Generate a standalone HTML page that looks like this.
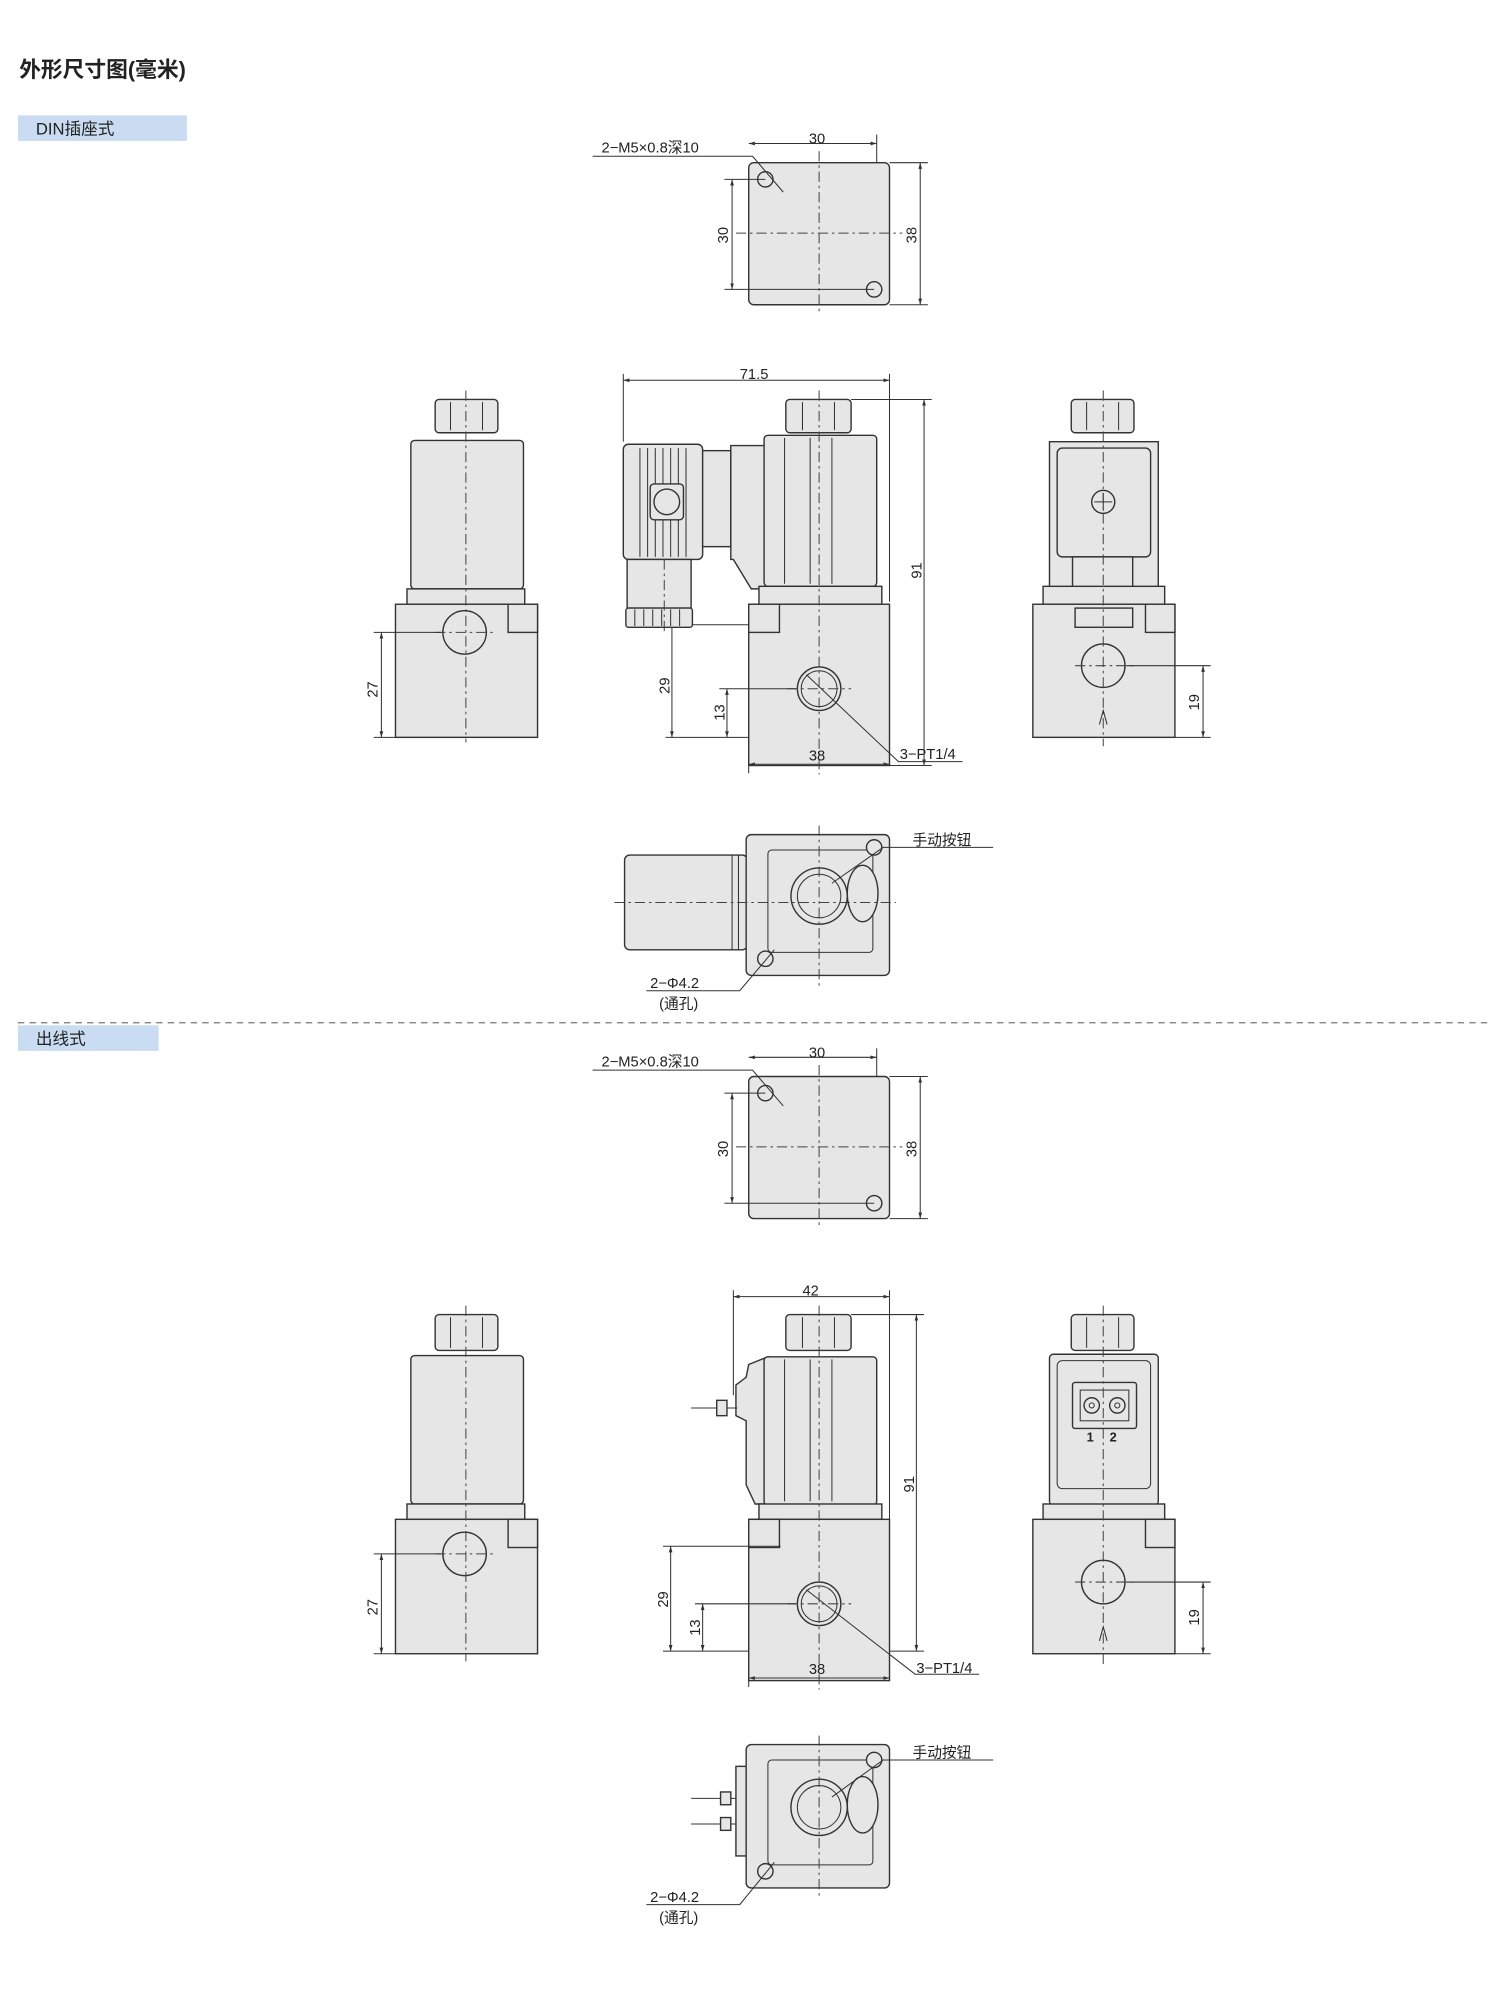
<!DOCTYPE html>
<html><head><meta charset="utf-8"><style>
html,body{margin:0;padding:0;background:#fff;}
svg{display:block;}
text{font-family:"Liberation Sans","Noto Sans CJK SC",sans-serif;fill:#222;}
.f{fill:#e6e6e6;stroke:#333;stroke-width:1.1;}
.l{fill:none;stroke:#333;stroke-width:0.8;}
.c{fill:none;stroke:#444;stroke-width:0.8;stroke-dasharray:8 3 2 3;}
.t{font-size:11.5px;}
</style></head><body>
<svg width="1500" height="2002" viewBox="0 0 1172 1564" xmlns="http://www.w3.org/2000/svg">
<defs>
<marker id="a" viewBox="0 0 10 10" refX="10" refY="5" markerWidth="6" markerHeight="6" orient="auto-start-reverse"><path d="M0,2 L10,5 L0,8z" fill="#333"/></marker>
</defs>
<text x="15" y="60" style="font-size:17px;font-weight:bold">外形尺寸图(毫米)</text>
<rect x="14" y="90" width="132" height="20" fill="#c9dcf2"/>
<text x="28" y="105" style="font-size:13px">DIN插座式</text>
<line x1="14" y1="799" x2="1162" y2="799" stroke="#777" stroke-width="1" stroke-dasharray="5 4"/>
<rect x="14" y="801" width="110" height="20" fill="#c9dcf2"/>
<text x="28" y="816" style="font-size:13px">出线式</text>

<!-- Top views (two sections) -->
<g id="tv1">
<rect class="f" x="585" y="127" width="110" height="111" rx="4"/>
<circle class="f" cx="598" cy="140" r="6"/><circle class="f" cx="683" cy="226" r="6"/>
<line class="c" x1="640" y1="118" x2="640" y2="245"/><line class="c" x1="575" y1="182" x2="705" y2="182"/>
<line class="l" x1="585" y1="112" x2="685" y2="112" marker-start="url(#a)" marker-end="url(#a)"/>
<line class="l" x1="685" y1="105" x2="685" y2="127"/>
<text class="t" x="632" y="112">30</text>
<line class="l" x1="695" y1="127" x2="725" y2="127"/><line class="l" x1="695" y1="238" x2="725" y2="238"/>
<line class="l" x1="719" y1="127" x2="719" y2="238" marker-start="url(#a)" marker-end="url(#a)"/>
<text class="t" transform="translate(716,190) rotate(-90)">38</text>
<line class="l" x1="566" y1="140" x2="598" y2="140"/><line class="l" x1="566" y1="226" x2="683" y2="226"/>
<line class="l" x1="572" y1="140" x2="572" y2="226" marker-start="url(#a)" marker-end="url(#a)"/>
<text class="t" transform="translate(569,190) rotate(-90)">30</text>
<text class="t" x="470" y="119">2−M5×0.8深10</text>
<polyline class="l" points="463,122 588,122 612,150"/>
</g>
<g transform="translate(0,714)">
<rect class="f" x="585" y="127" width="110" height="111" rx="4"/>
<circle class="f" cx="598" cy="140" r="6"/><circle class="f" cx="683" cy="226" r="6"/>
<line class="c" x1="640" y1="118" x2="640" y2="245"/><line class="c" x1="575" y1="182" x2="705" y2="182"/>
<line class="l" x1="585" y1="112" x2="685" y2="112" marker-start="url(#a)" marker-end="url(#a)"/>
<line class="l" x1="685" y1="105" x2="685" y2="127"/>
<text class="t" x="632" y="112">30</text>
<line class="l" x1="695" y1="127" x2="725" y2="127"/><line class="l" x1="695" y1="238" x2="725" y2="238"/>
<line class="l" x1="719" y1="127" x2="719" y2="238" marker-start="url(#a)" marker-end="url(#a)"/>
<text class="t" transform="translate(716,190) rotate(-90)">38</text>
<line class="l" x1="566" y1="140" x2="598" y2="140"/><line class="l" x1="566" y1="226" x2="683" y2="226"/>
<line class="l" x1="572" y1="140" x2="572" y2="226" marker-start="url(#a)" marker-end="url(#a)"/>
<text class="t" transform="translate(569,190) rotate(-90)">30</text>
<text class="t" x="470" y="119">2−M5×0.8深10</text>
<polyline class="l" points="463,122 588,122 612,150"/>
</g>

<!-- ===== Section 1 front row ===== -->
<!-- left view -->
<rect class="f" x="340" y="312" width="49" height="26" rx="3"/>
<line class="l" x1="352" y1="314" x2="352" y2="336"/><line class="l" x1="377" y1="314" x2="377" y2="336"/>
<rect class="f" x="321" y="344" width="88" height="116" rx="3"/>
<rect class="f" x="318" y="460" width="92" height="12"/>
<rect class="f" x="309" y="472" width="111" height="104"/>
<rect class="f" x="397" y="472" width="23" height="22"/>
<circle class="f" cx="363" cy="494" r="17"/>
<line class="c" x1="364" y1="305" x2="364" y2="580"/><line class="c" x1="340" y1="494" x2="386" y2="494"/>
<line class="l" x1="292" y1="494" x2="345" y2="494"/><line class="l" x1="292" y1="576" x2="309" y2="576"/>
<line class="l" x1="298" y1="494" x2="298" y2="576" marker-start="url(#a)" marker-end="url(#a)"/>
<text class="t" transform="translate(295,545) rotate(-90)">27</text>

<!-- middle view DIN -->
<rect class="f" x="487" y="347" width="62" height="90" rx="4"/>
<g class="l"><line x1="500" y1="350" x2="500" y2="435"/><line x1="506" y1="350" x2="506" y2="435"/><line x1="512" y1="350" x2="512" y2="435"/><line x1="518" y1="350" x2="518" y2="435"/><line x1="524" y1="350" x2="524" y2="435"/><line x1="530" y1="350" x2="530" y2="435"/><line x1="536" y1="350" x2="536" y2="435"/></g>
<rect class="f" x="508" y="378" width="26" height="28" rx="3"/><circle class="f" cx="521" cy="392" r="10"/>
<rect class="f" x="490" y="437" width="50" height="38"/>
<rect class="f" x="489" y="475" width="52" height="15" rx="2"/>
<g class="l"><line x1="496" y1="476" x2="496" y2="489"/><line x1="503" y1="476" x2="503" y2="489"/><line x1="510" y1="476" x2="510" y2="489"/><line x1="517" y1="476" x2="517" y2="489"/><line x1="524" y1="476" x2="524" y2="489"/><line x1="531" y1="476" x2="531" y2="489"/></g>
<rect class="f" x="549" y="352" width="22" height="75"/>
<path class="f" d="M571,348 L600,348 L600,460 L587,460 L573,437 L571,437 Z"/>
<rect class="f" x="597" y="340" width="88" height="118" rx="3"/>
<line class="l" x1="613" y1="342" x2="613" y2="456"/><line class="l" x1="633" y1="342" x2="633" y2="456"/><line class="l" x1="650" y1="342" x2="650" y2="456"/>
<rect class="f" x="614" y="312" width="51" height="26" rx="3"/>
<line class="l" x1="627" y1="314" x2="627" y2="336"/><line class="l" x1="652" y1="314" x2="652" y2="336"/>
<rect class="f" x="593" y="458" width="96" height="14"/>
<rect class="f" x="585" y="472" width="110" height="126"/>
<rect class="f" x="585" y="472" width="24" height="22"/>
<circle class="f" cx="640" cy="538" r="17"/><circle class="l" cx="640" cy="538" r="14"/>
<line class="c" x1="640" y1="305" x2="640" y2="605"/><line class="c" x1="615" y1="538" x2="665" y2="538"/>
<line class="c" x1="519" y1="437" x2="519" y2="495"/>
<line class="l" x1="487" y1="292" x2="487" y2="345"/><line class="l" x1="695" y1="292" x2="695" y2="470"/>
<line class="l" x1="487" y1="297" x2="695" y2="297" marker-start="url(#a)" marker-end="url(#a)"/>
<text class="t" x="578" y="296">71.5</text>
<line class="l" x1="665" y1="312" x2="728" y2="312"/><line class="l" x1="695" y1="598" x2="728" y2="598"/>
<line class="l" x1="722" y1="312" x2="722" y2="598" marker-start="url(#a)" marker-end="url(#a)"/>
<text class="t" transform="translate(720,452) rotate(-90)">91</text>
<line class="l" x1="541" y1="488" x2="585" y2="488"/><line class="l" x1="520" y1="576" x2="585" y2="576"/>
<line class="l" x1="525" y1="490" x2="525" y2="576" marker-end="url(#a)"/>
<text class="t" transform="translate(523,542) rotate(-90)">29</text>
<line class="l" x1="562" y1="538" x2="622" y2="538"/>
<line class="l" x1="568" y1="538" x2="568" y2="576" marker-start="url(#a)" marker-end="url(#a)"/>
<text class="t" transform="translate(566,563) rotate(-90)">13</text>
<line class="l" x1="585" y1="598" x2="585" y2="604"/>
<line class="l" x1="585" y1="597" x2="695" y2="597" marker-start="url(#a)" marker-end="url(#a)"/>
<text class="t" x="632" y="594">38</text>
<polyline class="l" points="630,527 702,595 752,595"/>
<text class="t" x="703" y="593">3−PT1/4</text>

<!-- right view DIN -->
<rect class="f" x="837" y="312" width="49" height="26" rx="3"/>
<line class="l" x1="849" y1="314" x2="849" y2="336"/><line class="l" x1="874" y1="314" x2="874" y2="336"/>
<rect class="f" x="820" y="345" width="85" height="115"/>
<rect class="f" x="826" y="350" width="73" height="85" rx="4"/>
<circle class="f" cx="862" cy="392" r="9"/><line class="l" x1="855" y1="392" x2="869" y2="392"/><line class="l" x1="862" y1="385" x2="862" y2="399"/>
<rect class="f" x="838" y="435" width="47" height="40"/>
<rect class="f" x="815" y="458" width="95" height="14"/>
<rect class="f" x="807" y="472" width="111" height="104"/>
<rect class="f" x="895" y="472" width="23" height="22"/>
<rect class="f" x="840" y="475" width="45" height="15"/>
<circle class="f" cx="862" cy="520" r="17"/>
<line class="c" x1="862" y1="305" x2="862" y2="583"/><line class="c" x1="840" y1="520" x2="885" y2="520"/>
<path class="l" d="M859,566 L862,555 L865,566"/>
<line class="l" x1="880" y1="520" x2="946" y2="520"/><line class="l" x1="918" y1="576" x2="946" y2="576"/>
<line class="l" x1="940" y1="520" x2="940" y2="576" marker-start="url(#a)" marker-end="url(#a)"/>
<text class="t" transform="translate(937,555) rotate(-90)">19</text>

<!-- bottom view DIN -->
<rect class="f" x="488" y="668" width="96" height="74" rx="4"/>
<rect class="f" x="583" y="652" width="112" height="110" rx="4"/>
<rect class="l" x="600" y="664" width="82" height="80" rx="3"/>
<line class="l" x1="572" y1="668" x2="572" y2="742"/><line class="l" x1="577" y1="668" x2="577" y2="742"/>
<ellipse class="f" cx="674" cy="698" rx="12" ry="22"/>
<circle class="f" cx="640" cy="700" r="22"/><circle class="l" cx="640" cy="700" r="17"/>
<circle class="f" cx="598" cy="749" r="6"/><circle class="f" cx="683" cy="662" r="6"/>
<line class="c" x1="640" y1="645" x2="640" y2="770"/><line class="c" x1="480" y1="705" x2="700" y2="705"/>
<polyline class="l" points="650,690 690,662 776,662"/><text class="t" x="713" y="660">手动按钮</text>
<polyline class="l" points="605,742 578,774 505,774"/>
<text class="t" x="508" y="772">2−Φ4.2</text><text class="t" x="515" y="788">(通孔)</text>

<!-- ===== Section 2 front row ===== -->
<!-- left view -->
<rect class="f" x="340" y="1027" width="49" height="28" rx="3"/>
<line class="l" x1="352" y1="1029" x2="352" y2="1053"/><line class="l" x1="377" y1="1029" x2="377" y2="1053"/>
<rect class="f" x="321" y="1059" width="88" height="116" rx="3"/>
<rect class="f" x="318" y="1175" width="92" height="12"/>
<rect class="f" x="309" y="1187" width="111" height="105"/>
<rect class="f" x="397" y="1187" width="23" height="22"/>
<circle class="f" cx="363" cy="1214" r="17"/>
<line class="c" x1="364" y1="1020" x2="364" y2="1298"/><line class="c" x1="340" y1="1214" x2="386" y2="1214"/>
<line class="l" x1="292" y1="1214" x2="345" y2="1214"/><line class="l" x1="292" y1="1292" x2="309" y2="1292"/>
<line class="l" x1="298" y1="1214" x2="298" y2="1292" marker-start="url(#a)" marker-end="url(#a)"/>
<text class="t" transform="translate(295,1262) rotate(-90)">27</text>

<!-- middle view wire -->
<path class="f" d="M585,1066 L600,1060 L600,1175 L590,1175 L583,1160 L583,1110 L575,1106 L575,1082 L583,1076 Z"/>
<line class="l" x1="540" y1="1100" x2="576" y2="1100"/><rect class="f" x="560" y="1094" width="8" height="12"/>
<rect class="f" x="597" y="1060" width="88" height="116" rx="3"/>
<line class="l" x1="613" y1="1062" x2="613" y2="1173"/><line class="l" x1="633" y1="1062" x2="633" y2="1173"/><line class="l" x1="650" y1="1062" x2="650" y2="1173"/>
<rect class="f" x="614" y="1027" width="51" height="28" rx="3"/>
<line class="l" x1="627" y1="1029" x2="627" y2="1053"/><line class="l" x1="652" y1="1029" x2="652" y2="1053"/>
<rect class="f" x="593" y="1175" width="96" height="12"/>
<rect class="f" x="585" y="1187" width="110" height="126"/>
<rect class="f" x="585" y="1187" width="24" height="22"/>
<circle class="f" cx="640" cy="1253" r="17"/><circle class="l" cx="640" cy="1253" r="14"/>
<line class="c" x1="640" y1="1020" x2="640" y2="1320"/><line class="c" x1="615" y1="1253" x2="665" y2="1253"/>
<line class="l" x1="573" y1="1008" x2="573" y2="1090"/><line class="l" x1="695" y1="1008" x2="695" y2="1187"/>
<line class="l" x1="573" y1="1013" x2="695" y2="1013" marker-start="url(#a)" marker-end="url(#a)"/>
<text class="t" x="627" y="1012">42</text>
<line class="l" x1="665" y1="1027" x2="722" y2="1027"/><line class="l" x1="695" y1="1290" x2="722" y2="1290"/>
<line class="l" x1="716" y1="1027" x2="716" y2="1290" marker-start="url(#a)" marker-end="url(#a)"/>
<text class="t" transform="translate(714,1166) rotate(-90)">91</text>
<line class="l" x1="518" y1="1208" x2="610" y2="1208"/><line class="l" x1="518" y1="1290" x2="585" y2="1290"/>
<line class="l" x1="524" y1="1208" x2="524" y2="1290" marker-start="url(#a)" marker-end="url(#a)"/>
<text class="t" transform="translate(522,1256) rotate(-90)">29</text>
<line class="l" x1="543" y1="1253" x2="622" y2="1253"/>
<line class="l" x1="549" y1="1253" x2="549" y2="1290" marker-start="url(#a)" marker-end="url(#a)"/>
<text class="t" transform="translate(547,1278) rotate(-90)">13</text>
<line class="l" x1="585" y1="1313" x2="585" y2="1318"/>
<line class="l" x1="585" y1="1311" x2="695" y2="1311" marker-start="url(#a)" marker-end="url(#a)"/>
<text class="t" x="632" y="1308">38</text>
<polyline class="l" points="630,1242 715,1308 765,1308"/>
<text class="t" x="716" y="1307">3−PT1/4</text>

<!-- right view wire -->
<rect class="f" x="837" y="1027" width="49" height="28" rx="3"/>
<line class="l" x1="849" y1="1029" x2="849" y2="1053"/><line class="l" x1="874" y1="1029" x2="874" y2="1053"/>
<rect class="f" x="820" y="1058" width="85" height="118" rx="3"/>
<rect class="l" x="826" y="1063" width="73" height="100" rx="4"/>
<rect class="f" x="838" y="1080" width="50" height="36" rx="2"/>
<rect class="l" x="844" y="1086" width="38" height="24"/>
<circle class="f" cx="853" cy="1098" r="6"/><circle class="l" cx="853" cy="1098" r="2"/>
<circle class="f" cx="873" cy="1098" r="6"/><circle class="l" cx="873" cy="1098" r="2"/>
<text x="849" y="1126" style="font-size:10px;font-weight:bold">1</text><text x="867" y="1126" style="font-size:10px;font-weight:bold">2</text>
<rect class="f" x="815" y="1175" width="95" height="12"/>
<rect class="f" x="807" y="1187" width="111" height="105"/>
<rect class="f" x="895" y="1187" width="23" height="22"/>
<circle class="f" cx="862" cy="1236" r="17"/>
<line class="c" x1="862" y1="1020" x2="862" y2="1300"/><line class="c" x1="840" y1="1236" x2="885" y2="1236"/>
<path class="l" d="M859,1282 L862,1271 L865,1282"/>
<line class="l" x1="880" y1="1236" x2="946" y2="1236"/><line class="l" x1="918" y1="1292" x2="946" y2="1292"/>
<line class="l" x1="940" y1="1236" x2="940" y2="1292" marker-start="url(#a)" marker-end="url(#a)"/>
<text class="t" transform="translate(937,1270) rotate(-90)">19</text>

<!-- bottom view wire -->
<rect class="f" x="575" y="1380" width="10" height="70"/>
<line class="l" x1="540" y1="1405" x2="575" y2="1405"/><line class="l" x1="540" y1="1425" x2="575" y2="1425"/>
<rect class="f" x="563" y="1400" width="8" height="10"/><rect class="f" x="563" y="1420" width="8" height="10"/>
<rect class="f" x="583" y="1363" width="112" height="112" rx="4"/>
<rect class="l" x="600" y="1375" width="82" height="82" rx="3"/>
<ellipse class="f" cx="674" cy="1410" rx="12" ry="22"/>
<circle class="f" cx="640" cy="1412" r="22"/><circle class="l" cx="640" cy="1412" r="17"/>
<circle class="f" cx="598" cy="1462" r="6"/><circle class="f" cx="683" cy="1375" r="6"/>
<line class="c" x1="640" y1="1356" x2="640" y2="1482"/>
<polyline class="l" points="650,1404 690,1375 776,1375"/><text class="t" x="713" y="1373">手动按钮</text>
<polyline class="l" points="605,1455 578,1488 505,1488"/>
<text class="t" x="508" y="1486">2−Φ4.2</text><text class="t" x="515" y="1502">(通孔)</text>
</svg>
</body></html>
